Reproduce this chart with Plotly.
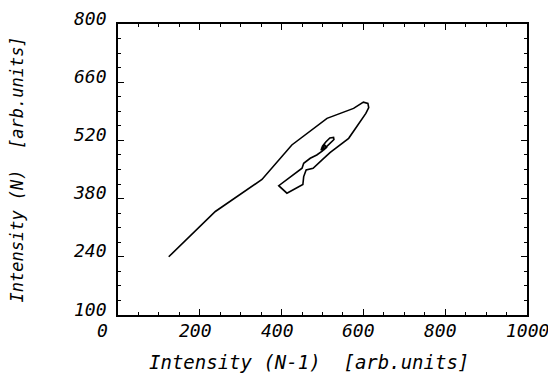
import plotly.graph_objects as go

# Return map: Intensity(N-1) vs Intensity(N)
intensity_prev = [124, 238, 352, 425, 511, 576, 600, 611, 613, 606, 564, 519,
                  499, 490, 477, 460, 454, 452, 413, 393, 429, 450, 454, 470, 486,
                  500, 510, 522, 528, 527, 518, 508, 500, 497, 503, 510, 506, 499, 503, 505]
intensity_next = [240, 349, 426, 509, 573, 597, 612, 609, 599, 585, 525, 491,
                  473, 465, 453, 449, 433, 414, 393, 411, 437, 453, 465, 477, 485,
                  495, 505, 515, 522, 527, 526, 516, 506, 498, 497, 503, 508, 502, 500, 504]

x_ticks = [0, 200, 400, 600, 800, 1000]
y_ticks = [100, 240, 380, 520, 660, 800]

FONT = "DejaVu Sans Mono"
TICK_SIZE = 18
XTITLE_SIZE = 19
YTITLE_SIZE = 17

fig = go.Figure()
fig.add_trace(go.Scatter(x=intensity_prev, y=intensity_next, mode="lines",
                         line=dict(color="black", width=1.6), showlegend=False))

# the page body has an 8px margin, so the figure is drawn 8px smaller
fig.update_layout(
    width=548, height=366,
    margin=dict(l=109.5, r=29, t=16, b=59),
    paper_bgcolor="white", plot_bgcolor="white",
    font=dict(family=FONT, size=TICK_SIZE, color="black", style="italic"),
)
fig.update_xaxes(range=[0, 1000], tickvals=x_ticks, showticklabels=False,
                 ticks="inside", ticklen=6, tickwidth=1.3, tickcolor="black",
                 minor=dict(dtick=50, tick0=0, ticks="inside", ticklen=3, tickwidth=1.3, tickcolor="black"),
                 showline=True, linecolor="black", linewidth=1.5, mirror="allticks",
                 showgrid=False, zeroline=False)
fig.update_yaxes(range=[100, 800], tickvals=y_ticks, showticklabels=False,
                 ticks="inside", ticklen=6, tickwidth=1.3, tickcolor="black",
                 minor=dict(dtick=35, tick0=100, ticks="inside", ticklen=3, tickwidth=1.3, tickcolor="black"),
                 showline=True, linecolor="black", linewidth=1.5, mirror="allticks",
                 showgrid=False, zeroline=False)

tick_font = dict(family=FONT, size=TICK_SIZE, style="italic")
annotations = []
for v in x_ticks:
    annotations.append(dict(x=v, xref="x", y=0, yref="paper", text=str(v),
                            xanchor="left", yanchor="middle", xshift=-23, yshift=-15,
                            showarrow=False, font=tick_font))
for v in y_ticks:
    annotations.append(dict(x=0, xref="paper", y=v, yref="y", text=str(v),
                            xanchor="right", yanchor="middle", xshift=-9, yshift=6,
                            showarrow=False, font=tick_font))
annotations.append(dict(x=0.4676, xref="paper", y=0, yref="paper", yshift=-47,
                        text="Intensity (N-1)  [arb.units]", showarrow=False,
                        xanchor="center", yanchor="middle",
                        font=dict(family=FONT, size=XTITLE_SIZE, style="italic")))
annotations.append(dict(x=0, xref="paper", xshift=-102, y=0.5, yref="paper",
                        text="Intensity (N)  [arb.units]", showarrow=False, textangle=-90,
                        xanchor="center", yanchor="middle",
                        font=dict(family=FONT, size=YTITLE_SIZE, style="italic")))
fig.update_layout(annotations=annotations)

fig.write_html("out.html")
